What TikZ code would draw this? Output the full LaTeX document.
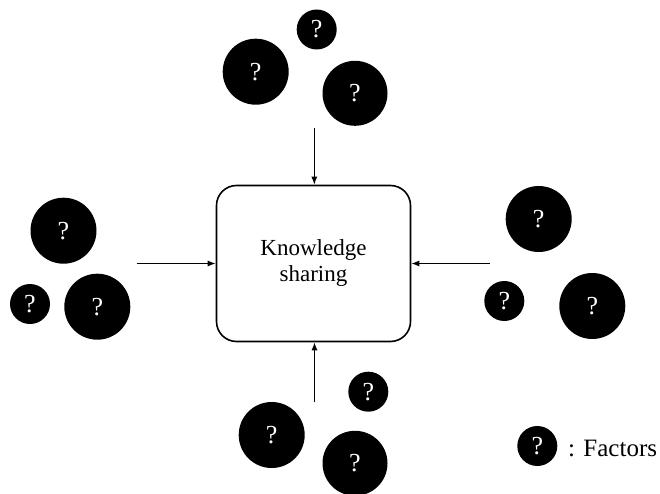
\documentclass[tikz,border=0pt]{standalone}
\usepackage{fontspec}
\setmainfont{Liberation Serif}
\usetikzlibrary{arrows.meta}
\begin{document}
\begin{tikzpicture}[x=1pt,y=-1pt,
  factor/.style={circle,fill=black,inner sep=0pt,minimum size=#1,text=white,font=\fontsize{26}{28}\selectfont},
  conn/.style={line width=1.1pt,-{Latex[length=8pt,width=6pt]}},
  mainbox/.style={draw,line width=1.6pt,rounded corners=20pt,minimum width=194pt,minimum height=156pt,align=center,font=\fontsize{23}{26}\selectfont}]
\useasboundingbox (0,0) rectangle (660,494);
\node[mainbox] (ks) at (313.5,263.5) {Knowledge\\sharing};
% top
\node[factor=66pt] (t1) at (255.7,71.7) {?};
\node[factor=40pt] (t2) at (316.7,29.5) {?};
\node[factor=65pt] (t3) at (355,93.3) {?};
\coordinate (ta) at (314.3,127.7);
% left
\node[factor=66pt] (l1) at (63.5,230.7) {?};
\node[factor=40pt] (l2) at (30,304) {?};
\node[factor=66pt] (l3) at (97.3,306.7) {?};
\coordinate (la) at (136.5,263.5);
% right
\node[factor=66pt] (r1) at (538.7,219) {?};
\node[factor=40pt] (r2) at (504.3,301) {?};
\node[factor=66pt] (r3) at (592.3,306) {?};
\coordinate (ra) at (490,263.5);
% bottom
\node[factor=40pt] (b1) at (368.3,391.7) {?};
\node[factor=66pt] (b2) at (271.7,435) {?};
\node[factor=65pt] (b3) at (355,463.3) {?};
\coordinate (ba) at (314.5,402.3);
% connectors
\draw[conn] (ta) -- (ta |- ks.north);
\draw[conn] (la) -- (la -| ks.west);
\draw[conn] (ra) -- (ra -| ks.east);
\draw[conn] (ba) -- (ba |- ks.south);
% legend
\node[factor=40pt] (lg) at (537.3,446) {?};
\node[anchor=west,font=\fontsize{25}{28}\selectfont,inner sep=0pt] (lgt) at (568,448) {: Factors};
\end{tikzpicture}
\end{document}
